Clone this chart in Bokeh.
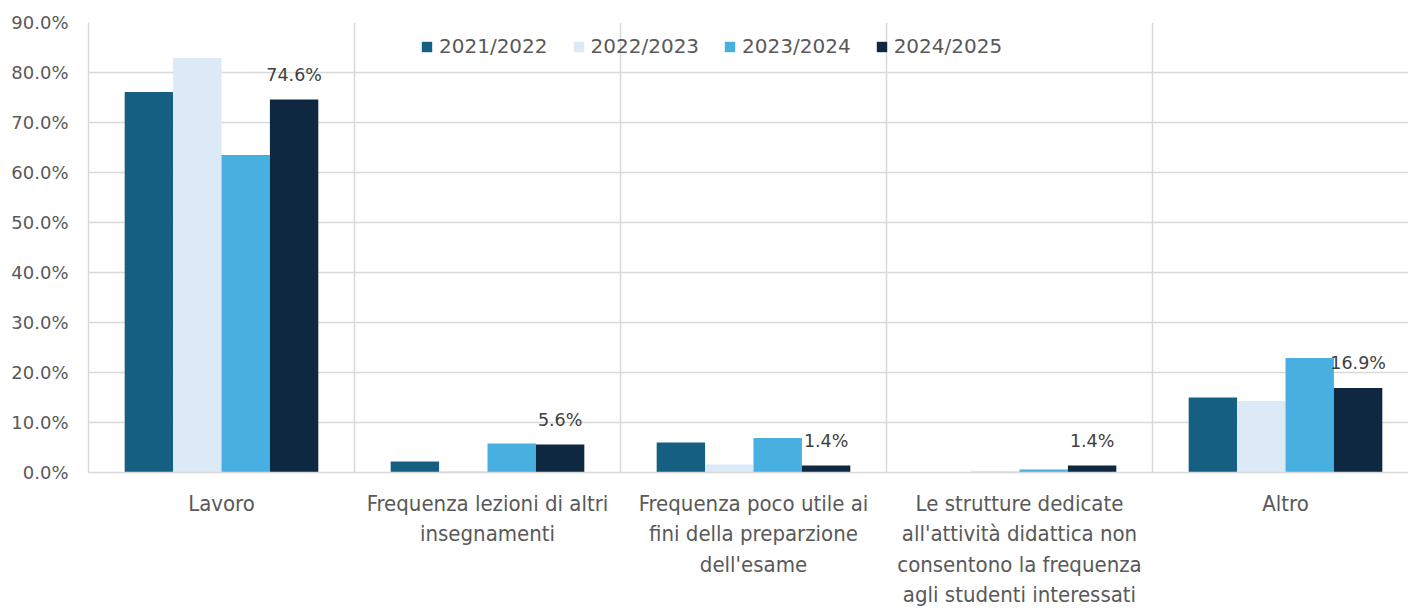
from bokeh.plotting import figure
from bokeh.models import (Range1d, FixedTicker, NumeralTickFormatter, ColumnDataSource,
                          LabelSet, Legend, LegendItem)
from bokeh.core.properties import value
from bokeh.transform import dodge
from bokeh.embed import file_html
from bokeh.resources import INLINE

# ---- data ----
categories = [
    "Lavoro",
    "Frequenza lezioni di altri\ninsegnamenti",
    "Frequenza poco utile ai\nfini della preparzione\ndell'esame",
    "Le strutture dedicate\nall'attività didattica non\nconsentono la frequenza\nagli studenti interessati",
    "Altro",
]
series_names = ["2021/2022", "2022/2023", "2023/2024", "2024/2025"]
v_2021_2022 = [0.761, 0.022, 0.060, 0.000, 0.150]
v_2022_2023 = [0.829, 0.003, 0.016, 0.003, 0.143]
v_2023_2024 = [0.635, 0.058, 0.069, 0.006, 0.229]
v_2024_2025 = [0.746, 0.056, 0.014, 0.014, 0.169]
series_values = [v_2021_2022, v_2022_2023, v_2023_2024, v_2024_2025]
colors = ["#156082", "#DCEAF7", "#47B0E0", "#0E2841"]
y_ticks = [0.0, 0.1, 0.2, 0.3, 0.4, 0.5, 0.6, 0.7, 0.8, 0.9]

W, H = 1408, 613
LEFT = 88
CAT_PX = 266.0
n = len(categories)
xc = [i + 0.5 for i in range(n)]

p = figure(width=W, height=H, output_backend="svg", toolbar_location=None,
           x_range=Range1d(0, (W - LEFT) / CAT_PX), y_range=Range1d(0, 0.9),
           min_border_left=LEFT, min_border_right=0, min_border_top=22,
           min_border_bottom=141)
p.outline_line_color = None
p.background_fill_color = "white"
p.border_fill_color = "white"

grid_col = "#d9d9d9"
num_font = "DejaVu Sans"
cat_font = "'Liberation Sans Narrow', 'DejaVu Sans Condensed', 'Roboto'"

bar_w = 0.182
offsets = [-1.5 * bar_w, -0.5 * bar_w, 0.5 * bar_w, 1.5 * bar_w]
items = []
last_src = None
for name, vals, col, off in zip(series_names, series_values, colors, offsets):
    src = ColumnDataSource(dict(x=xc, top=vals,
                                label=[f"{v * 100:.1f}%" for v in vals]))
    r = p.vbar(x=dodge("x", off), top="top", width=bar_w, source=src,
               fill_color=col, line_color=None)
    items.append(LegendItem(label=name, renderers=[r]))
    last_src = (src, off)

src4, off4 = last_src
labels = LabelSet(x=dodge("x", off4), y="top", text="label", source=src4,
                  text_align="center", text_baseline="bottom", y_offset=15,
                  text_font=value(num_font), text_font_size=value("17.5px"),
                  text_color="#404040")
p.add_layout(labels)

legend = Legend(items=items, orientation="horizontal", location=(332, 414),
                padding=0, margin=0, spacing=24, label_standoff=6,
                glyph_width=13, glyph_height=13,
                label_text_font=num_font, label_text_font_size="20px",
                label_text_color="#595959",
                background_fill_alpha=0, border_line_alpha=0)
p.add_layout(legend)

# axes
p.yaxis.ticker = FixedTicker(ticks=y_ticks)
p.yaxis.formatter = NumeralTickFormatter(format="0.0%")
p.yaxis.major_tick_line_color = None
p.yaxis.minor_tick_line_color = None
p.yaxis.axis_line_color = grid_col
p.yaxis.axis_line_width = 1.5
p.yaxis.major_label_standoff = 14
p.yaxis.major_label_text_font = num_font
p.yaxis.major_label_text_font_size = "18px"
p.yaxis.major_label_text_color = "#595959"

p.xaxis.ticker = FixedTicker(ticks=xc)
p.xaxis.major_label_overrides = {x: c for x, c in zip(xc, categories)}
p.xaxis.major_tick_line_color = None
p.xaxis.minor_tick_line_color = None
p.xaxis.axis_line_color = grid_col
p.xaxis.axis_line_width = 1.5
p.xaxis.major_label_standoff = 12
p.xaxis.major_label_text_font = cat_font
p.xaxis.major_label_text_font_size = "22px"
p.xaxis.major_label_text_color = "#595959"
p.xaxis.major_label_text_line_height = 1.22

p.xgrid.ticker = FixedTicker(ticks=[1, 2, 3, 4, 5])
p.xgrid.grid_line_color = grid_col
p.xgrid.grid_line_width = 1.5
p.ygrid.ticker = FixedTicker(ticks=y_ticks[1:])
p.ygrid.grid_line_color = grid_col
p.ygrid.grid_line_width = 1.5

open("out.html", "w").write(file_html(p, INLINE))
